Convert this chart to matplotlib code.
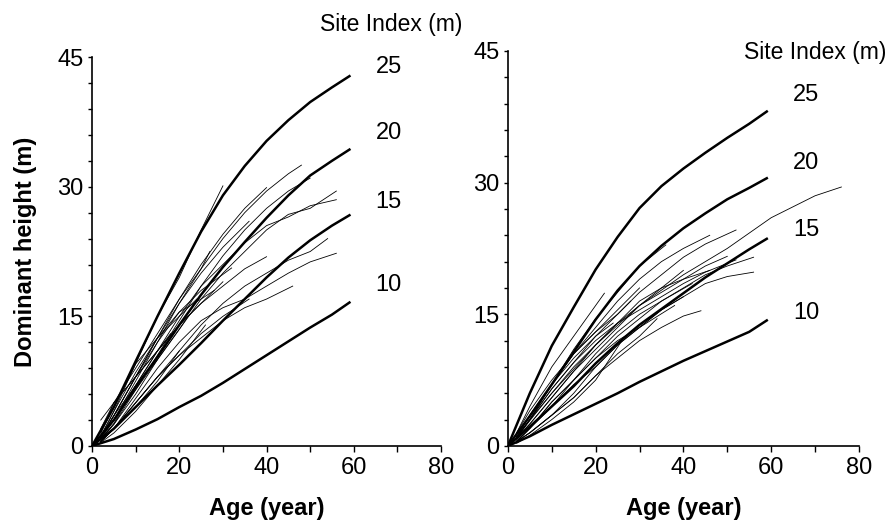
import matplotlib.pyplot as plt
from matplotlib.ticker import MultipleLocator

plt.rcParams['font.family'] = ['Liberation Sans', 'DejaVu Sans']

# site index curves (thick), read every 5 years up to age 59
si_age = [0, 5, 10, 15, 20, 25, 30, 35, 40, 45, 50, 55, 59]
si_labels = ['25', '20', '15', '10']

left_si = {
    '25': [0, 4.5, 9.8, 15.0, 20.0, 24.8, 29.0, 32.4, 35.3, 37.7, 39.8, 41.5, 42.8],
    '20': [0, 3.0, 6.8, 10.3, 14.0, 17.5, 20.7, 23.6, 26.4, 29.0, 31.3, 33.0, 34.3],
    '15': [0, 2.0, 4.5, 7.0, 9.4, 11.9, 14.5, 17.0, 19.5, 21.8, 23.8, 25.5, 26.7],
    '10': [0, 0.8, 1.9, 3.1, 4.5, 5.8, 7.3, 8.9, 10.5, 12.1, 13.7, 15.2, 16.6],
}
right_si = {
    '25': [0, 6.0, 11.4, 15.8, 20.1, 23.8, 27.1, 29.6, 31.6, 33.4, 35.1, 36.7, 38.1],
    '20': [0, 3.4, 7.0, 10.7, 14.4, 17.7, 20.5, 22.8, 24.8, 26.5, 28.1, 29.4, 30.5],
    '15': [0, 2.2, 4.5, 6.8, 9.4, 11.7, 13.8, 15.6, 17.4, 19.2, 20.8, 22.4, 23.6],
    '10': [0, 1.1, 2.4, 3.6, 4.8, 6.0, 7.3, 8.5, 9.7, 10.8, 11.9, 13.0, 14.3],
}

# heights of the site index numbers (placed at age 65)
left_lab_y = [43.9, 36.2, 28.2, 18.6]
right_lab_y = [40.0, 32.2, 24.6, 15.1]

# stem analysis series (thin): (ages, heights)
left_obs = [
    ([2, 5, 10, 15, 20, 25, 30], [1, 4, 9.5, 15, 19.5, 25, 30.1]),
    ([2, 5, 10, 15, 20, 25, 30, 35, 40], [1, 3.5, 8, 12.5, 17, 21, 24.5, 27.5, 29.9]),
    ([2, 5, 10, 15, 20, 25, 30, 35, 40, 45, 48], [1, 3, 7.5, 12, 16.5, 20.5, 24, 27, 29.5, 31.5, 32.5]),
    ([2, 5, 10, 15, 20, 25, 30, 35, 40, 45, 50], [0.8, 2.5, 6.5, 10.5, 14.5, 18.5, 22, 25, 27.5, 29.5, 31]),
    ([2, 5, 10, 15, 20, 25, 30, 35, 40, 45, 50, 56], [0.8, 2.5, 6, 10, 13.5, 17, 20, 22.5, 25, 26.8, 27.5, 29.5]),
    ([2, 5, 10, 15, 20, 25, 30, 35, 40, 45, 50, 56], [0.8, 2.6, 7, 11, 15, 18.5, 21, 23.5, 25.5, 26.5, 27.8, 28.5]),
    ([2, 5, 10, 15, 20, 25, 30, 35, 40, 45, 50, 54], [0.5, 2, 5, 8, 11, 14, 16.5, 18.5, 20, 21.5, 22.5, 24]),
    ([2, 5, 10, 15, 20, 25, 30, 35, 40, 45, 50, 56], [0.5, 2, 5.5, 9, 12, 14.5, 16, 17, 18.5, 20, 21.3, 22.3]),
    ([2, 5, 10, 15, 20, 25, 30, 35, 40], [0.8, 3, 7, 11, 14, 16.5, 18.5, 20.5, 21.9]),
    ([2, 5, 10, 15, 20, 25, 30, 35, 40, 46], [0.5, 2, 5, 8, 10.5, 12.5, 14.5, 16, 17, 18.5]),
    ([2, 5, 10, 15, 20, 25, 32], [1, 3.5, 8, 12, 15.5, 18, 20.6]),
    ([2, 5, 10, 15, 20, 25, 30, 36], [0.6, 2, 5, 8, 10.5, 13, 15, 17]),
    ([2, 5, 10, 15, 20, 25, 28], [1.2, 4, 8.5, 12.5, 15.5, 17, 18]),
    ([2, 5, 10, 15, 20, 25, 27], [2, 5, 9, 13, 17, 20.5, 22.5]),
    ([2, 5, 10, 15, 20, 22], [1, 3, 6.5, 10, 13.5, 15]),
    ([2, 5, 10, 15, 20], [0.5, 2, 4.5, 7.5, 11]),
    ([2, 5, 10, 15, 20, 25, 30], [3, 5, 8, 11, 14, 16.5, 19]),
    ([2, 5, 10, 15, 20, 24], [1.5, 4.5, 9.5, 12.5, 15, 17]),
    ([2, 5, 10, 15, 20, 25, 30, 36], [1, 3.5, 8, 12.5, 16.5, 20, 23, 26]),
    ([2, 5, 10, 15, 18], [1.5, 5, 8, 11, 13]),
    ([2, 5, 10, 15], [1, 3.5, 7, 10]),
    ([2, 5, 10, 15, 20, 26], [0.4, 1.5, 4, 7, 10, 14]),
]

right_obs = [
    ([2, 10, 20, 30, 40, 50, 60, 70, 76], [1, 6, 11.5, 16, 19.5, 22.5, 26, 28.5, 29.5]),
    ([2, 5, 10, 15, 20, 25, 30, 35, 40, 45, 52], [1, 3, 6.5, 9.5, 12.5, 15, 17.5, 19.5, 21.5, 23, 24.6]),
    ([2, 5, 10, 15, 20, 25, 30, 35, 40, 46], [1, 3, 7, 10.5, 13.5, 16.5, 19, 21, 22.5, 24]),
    ([2, 5, 10, 15, 20, 25, 30, 35, 40, 45, 50, 56], [0.5, 2, 5, 7.5, 10, 12.5, 14.5, 16.5, 18, 19.5, 20.5, 21.5]),
    ([2, 5, 10, 15, 20, 25, 30, 35, 40, 45, 52], [0.8, 3, 6.5, 9.5, 12, 14, 15.5, 17, 18.5, 19.8, 21.2]),
    ([2, 5, 10, 15, 20, 25, 30, 35, 40, 45, 50, 56], [0.5, 1.5, 3.5, 6, 9, 11.5, 13.5, 15.5, 17, 18.5, 19.3, 19.8]),
    ([2, 5, 10, 15, 20, 25, 30, 35, 40, 44], [0.5, 1.5, 3.5, 5.5, 8, 10, 12, 13.5, 14.8, 15.4]),
    ([2, 5, 10, 15, 20, 25, 30, 36], [1, 3.5, 7, 11, 14.5, 17.5, 20.5, 22.9]),
    ([2, 5, 10, 15, 20, 22], [1.5, 4.5, 9, 12.5, 16, 17.4]),
    ([2, 5, 10, 15, 20, 25, 30, 35, 40, 45, 50], [1, 3, 6, 9, 11.5, 14, 16, 17.5, 19, 20.5, 21.6]),
    ([2, 5, 10, 15, 20, 25, 30, 35, 40], [1, 2.5, 5.5, 8.5, 11, 13.5, 16, 18, 20]),
    ([2, 5, 10, 15, 20, 25, 30, 38], [0.5, 2, 5, 7.5, 10, 12, 13.5, 16]),
    ([2, 5, 10, 15, 20, 25, 30], [1, 3, 7, 10.5, 13, 15.5, 18]),
    ([2, 5, 10, 15, 20, 25, 30, 35, 40], [0.6, 2, 4.5, 7, 9, 11.5, 13.5, 15.5, 17]),
    ([2, 5, 10, 15, 20, 25, 30, 34], [0.5, 1.5, 3.5, 5.5, 8, 10.5, 12.5, 14.5]),
    ([2, 5, 10, 15, 20, 25, 28], [1.5, 4, 7.5, 10.5, 13, 15, 16.5]),
    ([2, 5, 10, 15, 20, 26], [0.3, 1.2, 3, 5, 7.5, 12]),
    ([2, 5, 10, 15, 20, 25, 30, 35, 40, 46], [0.8, 2.5, 5.5, 8.5, 11.5, 14, 16.5, 18, 19, 20]),
    ([2, 5, 10, 15, 20, 24], [1, 3.5, 7, 10, 12.5, 14]),
    ([2, 5, 10, 15, 20, 25, 30, 35, 42], [0.5, 2, 4.5, 7.5, 10.5, 13, 15, 16.5, 18.5]),
]


def draw_panel(ax, si, obs, lab_y, ylabel):
    for ages, hts in obs:
        ax.plot(ages, hts, color='black', lw=0.6)
    for k in si_labels:
        ax.plot(si_age, si[k], color='black', lw=1.8)
    for k, yv in zip(si_labels, lab_y):
        ax.text(65, yv, k, fontsize=17, va='center', ha='left')
    ax.set_xlim(0, 80)
    ax.set_ylim(0, 45)
    ax.set_xticks([0, 20, 40, 60, 80])
    ax.set_yticks([0, 15, 30, 45])
    ax.xaxis.set_minor_locator(MultipleLocator(10))
    ax.yaxis.set_minor_locator(MultipleLocator(3))
    ax.tick_params(which='both', direction='out', labelsize=17, width=1)
    ax.tick_params(axis='x', which='both', length=4, pad=4)
    ax.tick_params(axis='y', which='both', length=3, pad=3)
    ax.spines['top'].set_visible(False)
    ax.spines['right'].set_visible(False)
    ax.spines['left'].set_linewidth(1.2)
    ax.spines['bottom'].set_linewidth(1.2)
    ax.set_xlabel('Age (year)', fontsize=17, fontweight='bold', labelpad=13)
    if ylabel:
        ax.set_ylabel('Dominant height (m)', fontsize=17, fontweight='bold', labelpad=15)


fig = plt.figure(figsize=(8.91, 5.29), dpi=100)
ax1 = fig.add_axes([0.1033, 0.157, 0.3917, 0.735])
ax2 = fig.add_axes([0.570, 0.157, 0.394, 0.7467])

draw_panel(ax1, left_si, left_obs, left_lab_y, True)
draw_panel(ax2, right_si, right_obs, right_lab_y, False)

fig.text(0.4394, 0.953, 'Site Index (m)', fontsize=16.5, ha='center', va='center')
fig.text(0.915, 0.900, 'Site Index (m)', fontsize=16.5, ha='center', va='center')

fig.savefig('out.png', dpi=100)
